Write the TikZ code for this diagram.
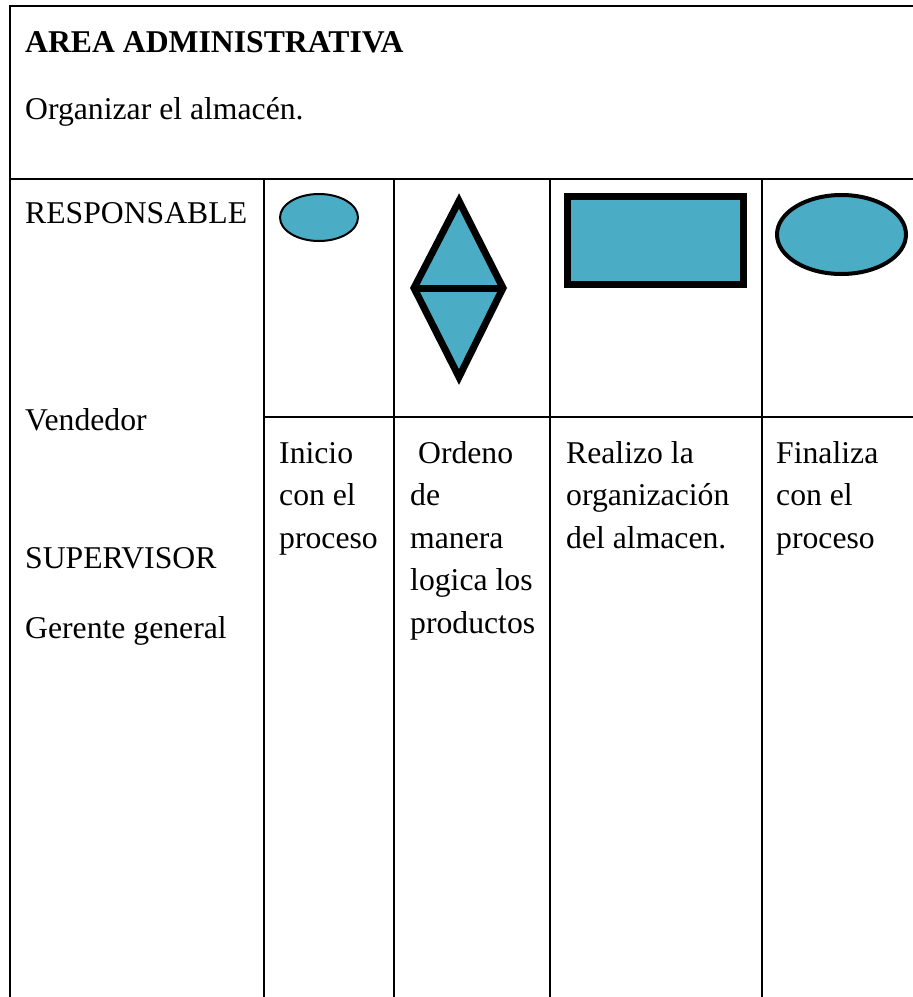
\documentclass[tikz,border=0pt]{standalone}
\usepackage{fontspec}
\setmainfont{Liberation Serif}
\usetikzlibrary{shapes.geometric}
\definecolor{shapefill}{HTML}{4BACC6}
\begin{document}
\begin{tikzpicture}[x=1pt,y=-1pt,
  grid/.style={line width=2.4pt,line cap=rect},
  txt/.style={anchor=base west,inner sep=0pt,font=\fontsize{31.7}{42.5}\selectfont},
  shp/.style={fill=shapefill,draw=black,inner sep=0pt}]
\useasboundingbox (0,0) rectangle (913,997);
% table grid
\draw[grid] (913,6) -- (10,6) -- (10,1000);
\draw[grid] (10,179) -- (913,179);
\draw[grid] (264,179) -- (264,1000);
\draw[grid] (394,179) -- (394,1000);
\draw[grid] (550,179) -- (550,1000);
\draw[grid] (762,179) -- (762,1000);
\draw[grid] (264,417) -- (913,417);
% header
\node[txt,font=\fontsize{31.7}{42.5}\selectfont\bfseries] (title) at (25,52) {AREA ADMINISTRATIVA};
\node[txt] (sub) at (25,119) {Organizar el almacén.};
% left column
\node[txt] (resp) at (25,223) {RESPONSABLE};
\node[txt] (vend) at (25,430) {Vendedor};
\node[txt] (sup) at (25,568) {SUPERVISOR};
\node[txt] (ger) at (25,638) {Gerente general};
% shapes
\node[shp,ellipse,line width=2pt,minimum width=78pt,minimum height=47pt] (e1) at (319,217.5) {};
\coordinate (dt) at (459,201);
\coordinate (db) at (459,377);
\coordinate (dl) at (414,288);
\coordinate (dr) at (503,288);
\filldraw[fill=shapefill,draw=black,line width=7pt,line join=miter] (dt) -- (dr) -- (db) -- (dl) -- cycle;
\draw[line width=7pt] (dl) -- (dr);
\node[shp,rectangle,line width=7pt,minimum width=176pt,minimum height=88pt] (r1) at (655.5,240.5) {};
\node[shp,ellipse,line width=4pt,minimum width=129pt,minimum height=79pt] (e2) at (841.5,234.5) {};
% cell texts
\node[txt] (c1) at (279,463) {\begin{tabular}[t]{@{}l@{}}Inicio\\con el\\proceso\end{tabular}};
\node[txt] (c2) at (410,463) {\begin{tabular}[t]{@{}l@{}}~Ordeno\\de\\manera\\logica los\\productos\end{tabular}};
\node[txt] (c3) at (566,463) {\begin{tabular}[t]{@{}l@{}}Realizo la\\organización\\del almacen.\end{tabular}};
\node[txt] (c4) at (776,463) {\begin{tabular}[t]{@{}l@{}}Finaliza\\con el\\proceso\end{tabular}};
\end{tikzpicture}
\end{document}
